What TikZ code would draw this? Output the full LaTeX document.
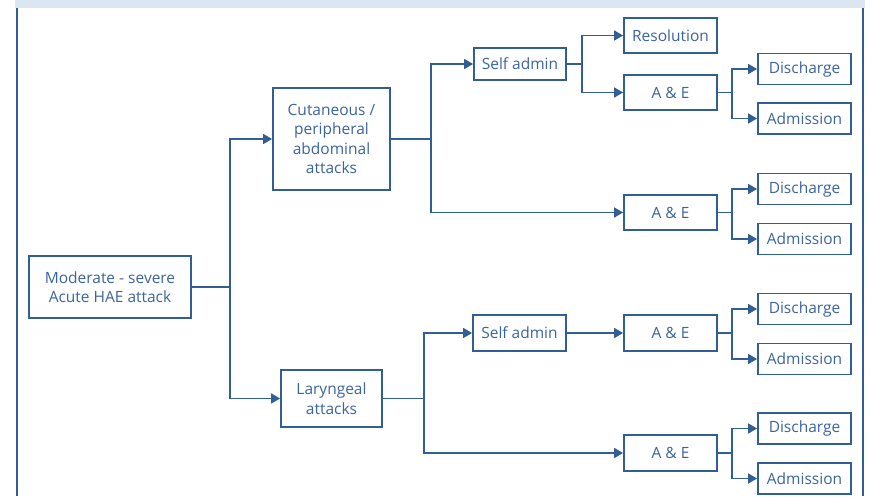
\documentclass[tikz,border=0pt]{standalone}
\usepackage{fontspec}
\setmainfont{Open Sans}
\usetikzlibrary{arrows.meta}
\definecolor{ln}{RGB}{50,94,150}
\definecolor{tx}{RGB}{58,100,158}
\definecolor{bar}{RGB}{220,230,242}
\begin{document}
\begin{tikzpicture}[x=1pt,y=-1pt,
  box/.style={draw=ln,line width=1.8pt,text=tx,align=center,inner sep=0pt,
    font=\fontsize{15.5}{19.5}\selectfont,minimum width=93pt,minimum height=33pt},
  con/.style={draw=ln,line width=1.6pt},
  arr/.style={con,-{Triangle[length=9pt,width=10pt]}}]
\useasboundingbox (0,0) rectangle (873,496);
\fill[bar] (15,0) rectangle (865,8);
\draw[ln,line width=2pt] (16.5,8) -- (16.5,496);
\draw[ln,line width=2pt] (862.5,8) -- (862.5,496);
% nodes
\node[box,minimum width=162pt,minimum height=62pt] (mod) at (110,287) {Moderate - severe\\Acute HAE attack};
\node[box,minimum width=117pt,minimum height=102pt] (cut) at (331.5,139) {Cutaneous /\\peripheral\\abdominal\\attacks};
\node[box,minimum width=101pt,minimum height=57pt] (lar) at (331.5,398.5) {Laryngeal\\attacks};
\node[box,minimum width=92pt,minimum height=32pt] (sa1) at (520,64) {Self admin};
\node[box,minimum height=35pt] (res) at (670.5,35.5) {Resolution};
\node[box,minimum height=35pt] (ae0) at (670.5,92.5) {A \& E};
\node[box,minimum height=35pt] (ae1) at (670.5,212.5) {A \& E};
\node[box,minimum height=36pt] (sa2) at (519.5,333) {Self admin};
\node[box,minimum height=36pt] (ae2) at (670.5,333) {A \& E};
\node[box,minimum height=36pt] (ae3) at (670.5,453) {A \& E};
\node[box,minimum height=31pt] (d0) at (804.5,69) {Discharge};
\node[box,minimum height=31pt] (a0) at (804.5,118.5) {Admission};
\node[box,minimum height=31pt] (d1) at (804.5,189) {Discharge};
\node[box,minimum height=31pt] (a1) at (804.5,239) {Admission};
\node[box,minimum height=31pt] (d2) at (804.5,309) {Discharge};
\node[box,minimum height=31pt] (a2) at (804.5,359) {Admission};
\node[box,minimum height=31pt] (d3) at (804.5,428.5) {Discharge};
\node[box,minimum height=31pt] (a3) at (804.5,478.5) {Admission};
% junctions
\coordinate (j0) at (230,287);
\coordinate (j1) at (431,139);
\coordinate (j2) at (582,64);
\coordinate (j3) at (424,398.5);
\coordinate (k0) at (732,92.5);
% connectors
\draw[con] (mod.east) -- (j0);
\draw[arr] (j0) |- (cut.west);
\draw[arr] (j0) |- (lar.west);
\draw[con] (cut.east) -- (j1);
\draw[arr] (j1) |- (sa1.west);
\draw[arr] (j1) |- (ae1.west);
\draw[con] (sa1.east) -- (j2);
\draw[arr] (j2) |- (res.west);
\draw[arr] (j2) |- (ae0.west);
\draw[con] (lar.east) -- (j3);
\draw[arr] (j3) |- (sa2.west);
\draw[arr] (j3) |- (ae3.west);
\draw[arr] (sa2.east) -- (ae2.west);
\foreach \a/\d/\m in {ae0/d0/a0,ae1/d1/a1,ae2/d2/a2,ae3/d3/a3}{
  \draw[con] (\a.east) -- (\a.east -| k0);
  \draw[arr] (\a.east -| k0) |- (\d.west);
  \draw[arr] (\a.east -| k0) |- (\m.west);
}
\end{tikzpicture}
\end{document}
